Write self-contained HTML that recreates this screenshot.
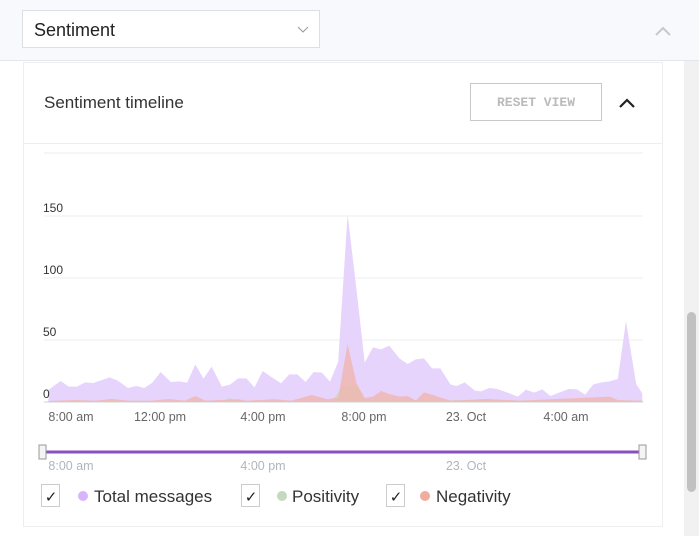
<!DOCTYPE html>
<html><head><style>
body{margin:0;width:699px;height:536px;background:#fff;font-family:"Liberation Sans",sans-serif;position:relative;overflow:hidden;color:#333}
.top{position:absolute;left:0;top:0;width:699px;height:60px;background:#f8f9fc;border-bottom:1px solid #e3e6ea}
.sel{position:absolute;left:22px;top:10px;width:298px;height:38px;border:1px solid #dcdfe3;background:#fff;font-size:18px;line-height:38px;padding-left:11px;box-sizing:border-box;color:#222}
.card{position:absolute;left:23px;top:62px;width:640px;height:465px;border:1px solid #eceef0;box-sizing:border-box;background:#fff}
.t{position:absolute;left:20px;top:30px;font-size:17px;color:#333}
.btn{position:absolute;left:446px;top:20px;width:132px;height:38px;border:1px solid #c8c8c8;box-sizing:border-box;font-family:"Liberation Mono",monospace;font-size:13px;color:#bbb;text-align:center;line-height:37px;font-weight:bold}
.hdr{position:absolute;left:0;top:80px;width:638px;border-top:1px solid #eceef0}
.sb{position:absolute;left:687px;top:312px;width:9px;height:180px;background:#c1c1c1;border-radius:5px}
.sbt{position:absolute;left:684px;top:61px;width:15px;height:475px;background:#f1f1f1}
</style></head><body>
<div class="top"><div class="sel">Sentiment</div>
<svg style="position:absolute;left:0;top:0" width="699" height="60"><polyline points="298,27 303,32 308,27" fill="none" stroke="#999" stroke-width="1"/><polyline points="656,35 663,28 670,35" fill="none" stroke="#c5c9cc" stroke-width="2"/></svg></div>
<div class="sbt"></div><div class="sb"></div>
<div class="card"><div class="t">Sentiment timeline</div><div class="btn">RESET VIEW</div><div class="hdr"></div></div>
<svg style="position:absolute;left:0;top:0" width="699" height="536" font-family="Liberation Sans, sans-serif">
<polyline points="620,107 627,100 634,107" fill="none" stroke="#222" stroke-width="2.2"/>
<g stroke="#eeeeee" stroke-width="1"><line x1="44" y1="153" x2="643" y2="153"/><line x1="44" y1="216" x2="643" y2="216"/><line x1="44" y1="278" x2="643" y2="278"/><line x1="44" y1="340" x2="643" y2="340"/></g>
<g transform="translate(30,190) scale(0.4082,0.3333)">
<polygon fill="#e7d4fd" points="45,600 75,573 95,590 115,590 135,577 155,579 195,562 215,572 240,594 260,588 280,594 300,578 320,546 345,576 365,574 385,578 405,523 425,566 445,530 470,590 490,584 510,565 530,565 550,592 570,543 590,560 615,580 635,553 655,553 675,576 695,546 715,548 735,575 755,515 778,73 800,300 820,518 840,472 860,478 880,467 905,505 925,522 945,508 965,505 985,535 1005,535 1030,583 1045,588 1065,577 1090,602 1105,604 1125,594 1145,597 1170,608 1195,620 1215,599 1235,608 1255,598 1275,618 1300,606 1320,597 1340,598 1360,614 1380,583 1400,577 1420,574 1440,567 1460,393 1485,582 1500,610 1500,635 45,635"/>
<polygon fill="#c7d9c0" fill-opacity="0.7" points="45,635 470,633 490,624 510,633 740,633 765,590 800,588 820,630 1500,633 1500,635"/>
<polygon fill="#f0b4a8" fill-opacity="0.75" points="45,633 110,630 160,632 200,627 240,632 300,632 340,627 380,632 405,618 430,632 510,628 530,632 600,628 640,632 690,615 730,628 755,622 778,462 800,580 820,624 840,620 860,603 880,612 905,620 925,618 945,632 965,607 985,614 1005,622 1030,632 1120,627 1200,632 1420,620 1440,630 1500,632 1500,635 45,635"/>
</g>
<line x1="44" y1="402" x2="643" y2="402" stroke="#ccd0d4"/>
<g font-size="12" fill="#333"><text x="43" y="212">150</text><text x="43" y="274">100</text><text x="43" y="336">50</text><text x="43" y="398">0</text></g>
<g font-size="12.5" fill="#666" text-anchor="middle"><text x="71" y="421">8:00 am</text><text x="160" y="421">12:00 pm</text><text x="263" y="421">4:00 pm</text><text x="364" y="421">8:00 pm</text><text x="466" y="421">23. Oct</text><text x="566" y="421">4:00 am</text></g>
<line x1="42" y1="452" x2="643" y2="452" stroke="#8a4fbf" stroke-width="3"/>
<rect x="39" y="445" width="7" height="14" fill="#f4f4f4" stroke="#999"/><rect x="639" y="445" width="7" height="14" fill="#f4f4f4" stroke="#999"/>
<g font-size="12.5" fill="#b0b6bc" text-anchor="middle"><text x="71" y="470">8:00 am</text><text x="263" y="470">4:00 pm</text><text x="466" y="470">23. Oct</text></g>
<g fill="#fff" stroke="#ccc"><rect x="41.5" y="484.5" width="18" height="22"/><rect x="241.5" y="484.5" width="18" height="22"/><rect x="386.5" y="484.5" width="18" height="22"/></g>
<g font-size="15" fill="#222" text-anchor="middle"><text x="51" y="502">✓</text><text x="251" y="502">✓</text><text x="396" y="502">✓</text></g>
<circle cx="83" cy="496" r="5" fill="#d9b3fb"/><circle cx="282" cy="496" r="5" fill="#c4d9be"/><circle cx="425" cy="496" r="5" fill="#f0ad9c"/>
<g font-size="17" fill="#333"><text x="94" y="502">Total messages</text><text x="292" y="502">Positivity</text><text x="436" y="502">Negativity</text></g>
</svg>
</body></html>
